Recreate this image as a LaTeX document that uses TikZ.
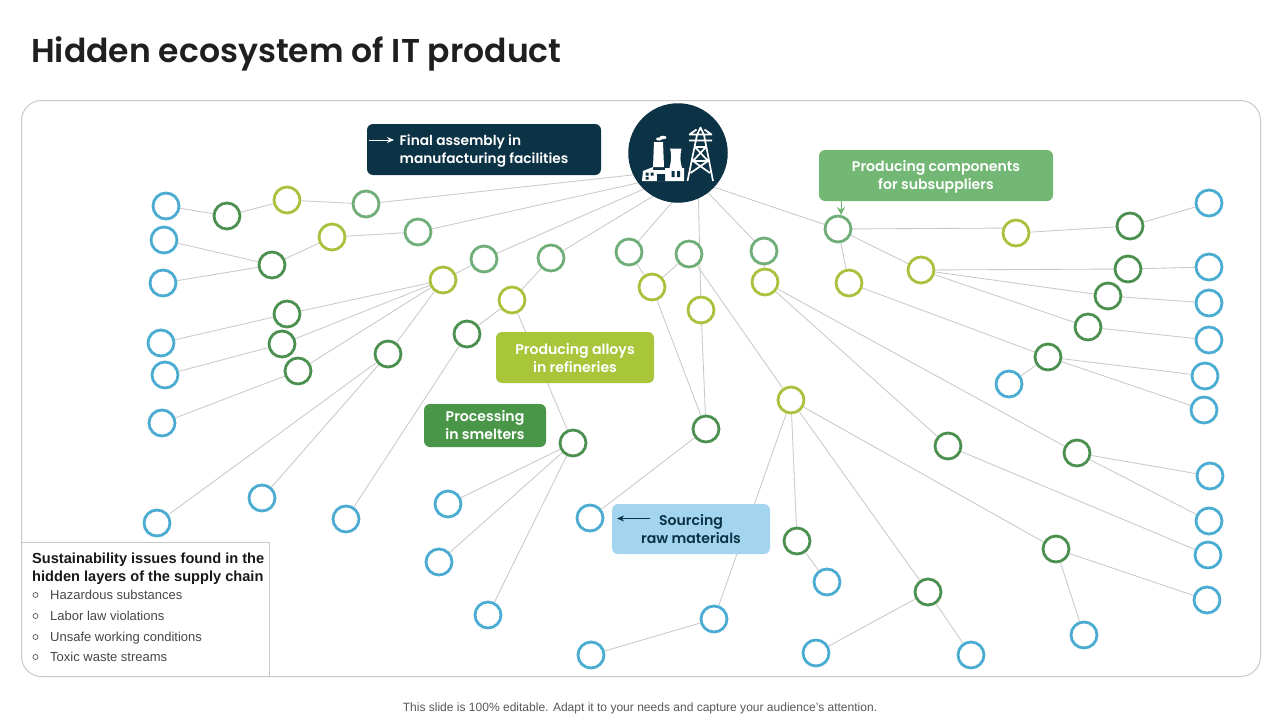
\documentclass[tikz,border=0pt]{standalone}
\usepackage{fontspec}
\setmainfont{Liberation Sans}
\newfontfamily\labelfont{Poppins}[BoldFont={Poppins SemiBold}]
\usetikzlibrary{backgrounds,arrows.meta}
\definecolor{navy}{HTML}{0B3245}
\definecolor{cblue}{HTML}{4BACD2}
\definecolor{cdark}{HTML}{4C9050}
\definecolor{cyell}{HTML}{A8C23E}
\definecolor{cmid}{HTML}{70AE78}
\definecolor{boxyell}{HTML}{A9C53A}
\definecolor{boxdark}{HTML}{4A9648}
\definecolor{boxmid}{HTML}{72B774}
\definecolor{boxblue}{HTML}{A3D5EE}
\definecolor{edgegray}{HTML}{C9C9C9}
\tikzset{
  ring/.style={circle,draw,line width=2.8pt,fill=white,minimum size=26pt,inner sep=0pt},
  rblue/.style={ring,draw=cblue},
  rdark/.style={ring,draw=cdark},
  ryell/.style={ring,draw=cyell},
  rmid/.style={ring,draw=cmid},
  link/.style={draw=edgegray,line width=.85pt},
  lbl/.style={rounded corners=6pt,inner sep=0pt,font=\labelfont\bfseries\fontsize{14.1}{18}\selectfont,align=center},
  issue/.style={anchor=base west,inner sep=0pt,text=black!72,font=\fontsize{13}{14}\selectfont},
  bul/.style={circle,draw=black!65,line width=.7pt,minimum size=5pt,inner sep=0pt},
}
\begin{document}
\begin{tikzpicture}[x=1pt,y=-1pt]
\useasboundingbox (0,0) rectangle (1280,720);
\node[anchor=west,inner sep=0pt,font=\labelfont\bfseries\fontsize{33}{36}\selectfont,text=black!88] (title) at (31,54) {Hidden ecosystem of IT product};
\node[inner sep=0pt,text=black!65,font=\fontsize{12.03}{14}\selectfont] (foot) at (640,708.5) {This slide is 100\% editable. Adapt it to your needs and capture your audience's attention.};
\node[circle,fill=navy,minimum size=99.5pt,inner sep=0pt] (hub) at (678,153) {};
\foreach \n/\x/\y in {hm1/678/170,hm2/678/174,hm3/678/174,hm4/678/181,hm5/680/193,hm6/698/180,hm7/690/174,hm8/678/175,y10t/1016/228}
  \coordinate (\n) at (\x,\y);
\foreach \n/\x/\y in {b1/166/206,b2/164/240,b3/163/283,b4/161/343,b5/165/375,b6/162/423,b7/157/523,b8/262/498,b9/346/519,b10/448/504,b11/439/562,b12/488/615,b13/590/518,b14/591/655,b15/714/619,b16/827/582,b17/816/653,b18/971/655,b19/1084/635,b20/1207/600,b21/1208/555,b22/1209/521,b23/1210/476,b24/1204/410,b25/1205/376,b26/1209/340,b27/1209/303,b28/1209/267,b29/1209/203,b30/1009/384}
  \node[rblue] (\n) at (\x,\y) {};
\foreach \n/\x/\y in {d1/227/216,d2/272/265,d3/287/314,d4/282/344,d5/298/371,d6/388/354,d7/467/334,d8/573/443,d9/706/429,d10/797/541,d11/928/592,d12/1056/549,d13/948/446,d14/1077/453,d15/1048/357,d16/1088/327,d17/1108/296,d18/1128/269,d19/1130/226}
  \node[rdark] (\n) at (\x,\y) {};
\foreach \n/\x/\y in {y1/287/200,y2/332/237,y3/443/280,y4/512/300,y5/652/287,y6/701/310,y7/765/282,y8/849/283,y9/921/270,y10/1016/233,y11/791/400}
  \node[ryell] (\n) at (\x,\y) {};
\foreach \n/\x/\y in {m1/366/204,m2/418/232,m3/484/259,m4/551/258,m5/629/252,m6/689/254,m7/764/251,m8/838/229}
  \node[rmid] (\n) at (\x,\y) {};
\begin{scope}[on background layer]
\fill[white] (0,0) rectangle (1280,720);
\draw[edgegray,line width=1pt,rounded corners=20pt] (21.5,100.5) rectangle (1260.5,676.5);
\foreach \a/\b in {b1/d1,d1/y1,y1/m1,m1/hm1,b2/d2,b3/d2,d2/y2,y2/m2,m2/hm2,y3/m3,m3/hm3,m4/hm4,m4/y4,y4/d7,d7/b9,b4/d3,d3/y3,b5/d4,d4/y3,b6/d5,d5/y3,y3/d6,d6/b7,d6/b8,y4/d8,d8/b10,d8/b11,d8/b12,hm5/m5,m5/y5,y5/d9,hm6/y6,m6/y5,y6/d9,d9/b13,m6/y11,hm7/m7,m7/y7,y7/d13,y7/d14,hm8/m8,m8/y8,m8/y10t,m8/y9,y10/d19,d19/b29,y9/d18,y9/d17,y9/d16,d18/b28,d17/b27,d16/b26,y8/d15,d15/b25,d15/b24,d15/b30,y11/b15,b15/b14,y11/d10,d10/b16,y11/d11,d11/b17,d11/b18,y11/d12,d12/b19,d12/b20,d13/b21,d14/b23,d14/b22}
  \draw[link] (\a) -- (\b);
\end{scope}
% factory and pylon icon
\begin{scope}[white]
\fill (654,142) -- (663,142) -- (664,167) -- (653,167) -- cycle;
\fill (659,139) ellipse (3pt and 1.6pt);
\fill (663,137.5) ellipse (3.4pt and 1.8pt);
\fill (670,148.5) .. controls (672,156) and (671,162) .. (669.5,168) -- (682,168) .. controls (680,162) and (680,156) .. (681.5,148.5) -- cycle;
\fill (643,171) -- (653,167) -- (653,170) -- (665,170) -- (665,168) -- (684,168) -- (684,181) -- (642,181) -- cycle;
\fill[navy] (645.5,172.5) rectangle (648.5,175.5) (650.5,172.5) rectangle (653.5,175.5) (645.5,177) rectangle (648.5,179.5);
\fill[navy] (657,174) rectangle (665,181) (671.5,171) rectangle (674.5,177) (677,171) rectangle (680,177);
\draw[line width=1.7pt,line join=round] (687.5,181) -- (697,135) -- (700.5,127.5) -- (704,135) -- (713,181)
  (689,134.5) -- (712,134.5) (689,140.5) -- (712,140.5) (689.5,134.5) -- (696.5,129.5) (711.5,134.5) -- (704.5,129.5)
  (695,147) -- (706,147) (695,147) -- (708,161) (706,147) -- (693,161) (693,161) -- (708,161) (693,161) -- (710,173) (708,161) -- (690.5,173);
\end{scope}
% labels
\node[lbl,fill=navy,text=white,minimum width=234pt,minimum height=51pt,align=left,font=\labelfont\bfseries\fontsize{13.75}{18}\selectfont] (box1) at (484,149.5) {\rule{0pt}{14pt}Final assembly in\\manufacturing facilities};
\node[lbl,fill=boxmid,text=white,minimum width=234pt,minimum height=51pt] (box2) at (936,175.5) {\rule{0pt}{13pt}Producing components\\for subsuppliers};
\node[lbl,fill=boxyell,text=white,minimum width=158pt,minimum height=51pt] (box3) at (575,357.5) {\rule{0pt}{13pt}Producing alloys\\in refineries};
\node[lbl,fill=boxdark,text=white,minimum width=122pt,minimum height=43pt] (box4) at (485,425.5) {Processing\\in smelters};
\node[lbl,fill=boxblue,text=navy,minimum width=158pt,minimum height=50pt] (box5) at (691,529) {Sourcing\\raw materials};
\coordinate (a1s) at (369,140); \coordinate (a1e) at (394,140);
\draw[white,line width=1pt,-{Stealth[length=7pt,width=6pt]}] (a1s) -- (a1e);
\coordinate (a5s) at (650,518.5); \coordinate (a5e) at (617,518.5);
\draw[navy,line width=1pt,-{Stealth[length=7pt,width=6pt]}] (a5s) -- (a5e);
\coordinate (a2s) at (841,201); \coordinate (a2e) at (841,215);
\draw[boxmid,line width=1pt,-{Stealth[length=8pt,width=8pt]}] (a2s) -- (a2e);
% legend
\coordinate (lgA) at (21.5,542.5); \coordinate (lgB) at (269.5,542.5); \coordinate (lgC) at (269.5,676.5);
\draw[edgegray,line width=1pt] (lgA) -- (lgB) -- (lgC);
\node[anchor=west,inner sep=0pt,text=black!90,font=\bfseries\fontsize{14.6}{18}\selectfont,align=left] (lgt) at (32,568.5) {Sustainability issues found in the\\hidden layers of the supply chain};
\foreach \k/\y/\t in {1/594.5/Hazardous substances,2/615.5/Labor law violations,3/636.5/Unsafe working conditions,4/656.5/Toxic waste streams}{
  \node[bul] (bl\k) at (35.5,\y+.5) {};
  \node[issue] (li\k) at (50,\y+4.5) {\t};
}
\end{tikzpicture}
\end{document}
